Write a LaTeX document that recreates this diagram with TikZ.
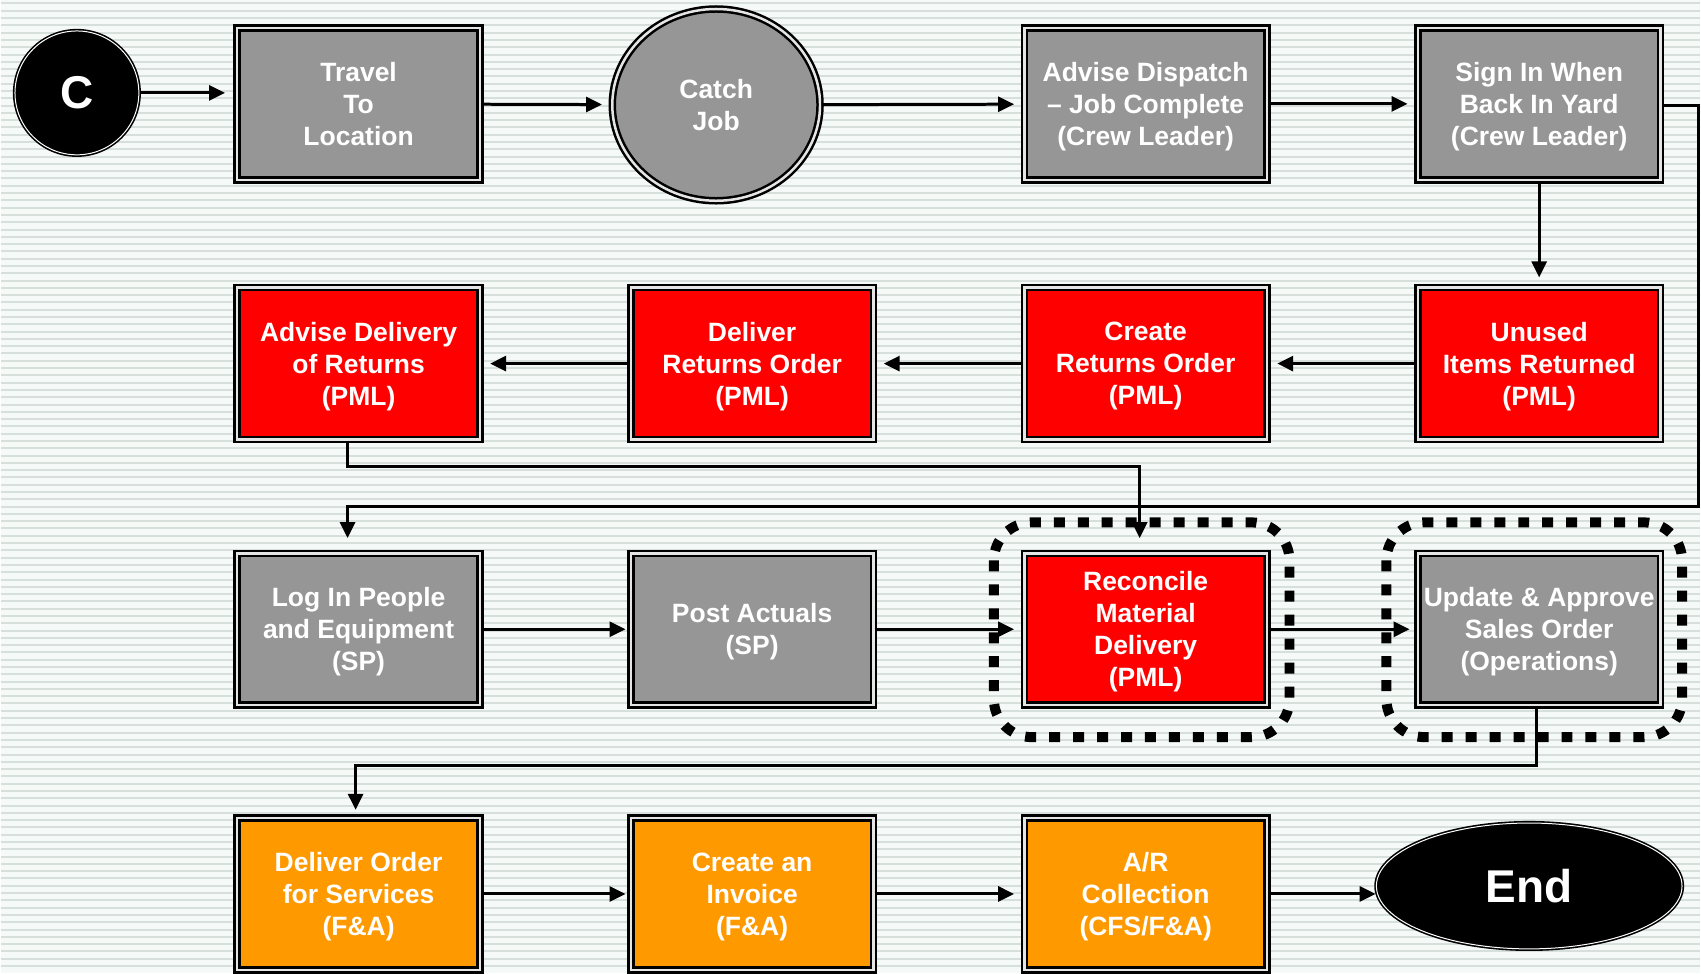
\documentclass[tikz,border=0pt]{standalone}
\usepackage{fontspec}
\setmainfont{Liberation Sans}
\usepackage{tikz}
\usetikzlibrary{arrows.meta,shapes.geometric}

\definecolor{bgc}{HTML}{F5FAF8}
\definecolor{stripec}{HTML}{D7DFDA}
\definecolor{gfill}{HTML}{969696}
\definecolor{ofill}{HTML}{FF9900}

\begin{document}
\begin{tikzpicture}[x=1pt,y=-1pt,
    bnode/.style={draw=black, line width=2.5pt, double=white!80!gray, double distance=2.5pt,
      rectangle, minimum width=243pt, minimum height=152pt, inner sep=0pt, align=center,
      text=white, font=\fontsize{26.5}{32}\selectfont\bfseries, text depth=-7pt},
    gnode/.style={bnode, fill=gfill},
    rnode/.style={bnode, fill=red},
    onode/.style={bnode, fill=ofill},
    knode/.style={draw=black, line width=1.6pt, double=white, double distance=1pt, fill=black,
      text=white, inner sep=0pt},
    arr/.style={-{Triangle[length=16pt,width=15pt]}, line width=3pt},
    dotframe/.style={line width=10pt, dash pattern=on 11pt off 13pt, rounded corners=38pt}]

    % background
    \fill[bgc] (0,0) rectangle (1701,974);
    \foreach \y in {3.5,10.8,...,974}
      \draw[stripec, line width=2pt] (0,\y) -- (1701,\y);

    \node[knode, circle, minimum size=124pt, font=\fontsize{46}{50}\selectfont\bfseries] (C) at (76,93) {C};
    \node[gnode] (tr) at (358,104) {Travel\\To\\Location};
    \node[bnode, fill=gfill, ellipse, minimum width=208pt, minimum height=192pt] (cj) at (716,105) {Catch\\Job};
    \node[gnode] (ad) at (1146,104) {Advise Dispatch\\-- Job Complete\\(Crew Leader)};
    \node[gnode] (sg) at (1540,104) {Sign In When\\Back In Yard\\(Crew Leader)};

    \node[rnode] (dr) at (358,364) {Advise Delivery\\of Returns\\(PML)};
    \node[rnode] (de) at (752,364) {Deliver\\Returns Order\\(PML)};
    \node[rnode] (cr) at (1146,364) {Create\\Returns Order\\(PML)};
    \node[rnode] (un) at (1540,364) {Unused\\Items Returned\\(PML)};

    \node[gnode] (li) at (358,630) {Log In People\\and Equipment\\(SP)};
    \node[gnode] (pa) at (752,630) {Post Actuals\\(SP)};
    \node[rnode] (rc) at (1146,630) {Reconcile\\Material\\Delivery\\(PML)};
    \node[gnode] (up) at (1540,630) {Update \& Approve\\Sales Order\\(Operations)};

    \node[onode] (dl) at (358,895) {Deliver Order\\for Services\\(F\&A)};
    \node[onode] (ci) at (752,895) {Create an\\Invoice\\(F\&A)};
    \node[onode] (ar) at (1146,895) {A/R\\Collection\\(CFS/F\&A)};
    \node[knode, ellipse, minimum width=306pt, minimum height=126pt, font=\fontsize{46}{50}\selectfont\bfseries] (en) at (1530,887) {End};

    \coordinate (r1) at (1699,507);

    \draw[dotframe] (994,523) rectangle (1290,738);
    \draw[dotframe] (1387,523) rectangle (1683,738);

    \begin{scope}[arr]
    \draw[shorten >=11pt] (C) -- (C -| tr.west);
    \draw[shorten >=9pt] (tr) -- (cj);
    \draw[shorten >=9pt] (cj) -- (ad);
    \draw[shorten >=9pt] (ad) -- (sg);
    \draw[shorten >=9pt] (sg) -- (un);
    \draw[shorten >=9pt] (un) -- (cr);
    \draw[shorten >=9pt] (cr) -- (de);
    \draw[shorten >=9pt] (de) -- (dr);
    \draw[shorten >=14pt] ([yshift=-2pt]sg.east) -| (r1) -| ([xshift=-11pt]li.north);
    \draw[shorten >=14pt] ([xshift=-11pt]dr.south) -- ++(0,26) -| ([xshift=-6pt]rc.north);
    \draw[shorten >=4pt] (li) -- (pa);
    \draw[shorten >=9pt] (pa) -- (rc);
    \draw[shorten >=7pt] (rc) -- (up);
    \draw[shorten >=7pt] ([xshift=-3pt]up.south) -- ++(0,59) -| ([xshift=-3pt]dl.north);
    \draw[shorten >=4pt] (dl) -- (ci);
    \draw[shorten >=9pt] (ci) -- (ar);
    \draw (ar.east) -- (ar.east -| en.west);
    \end{scope}
\end{tikzpicture}
\end{document}
